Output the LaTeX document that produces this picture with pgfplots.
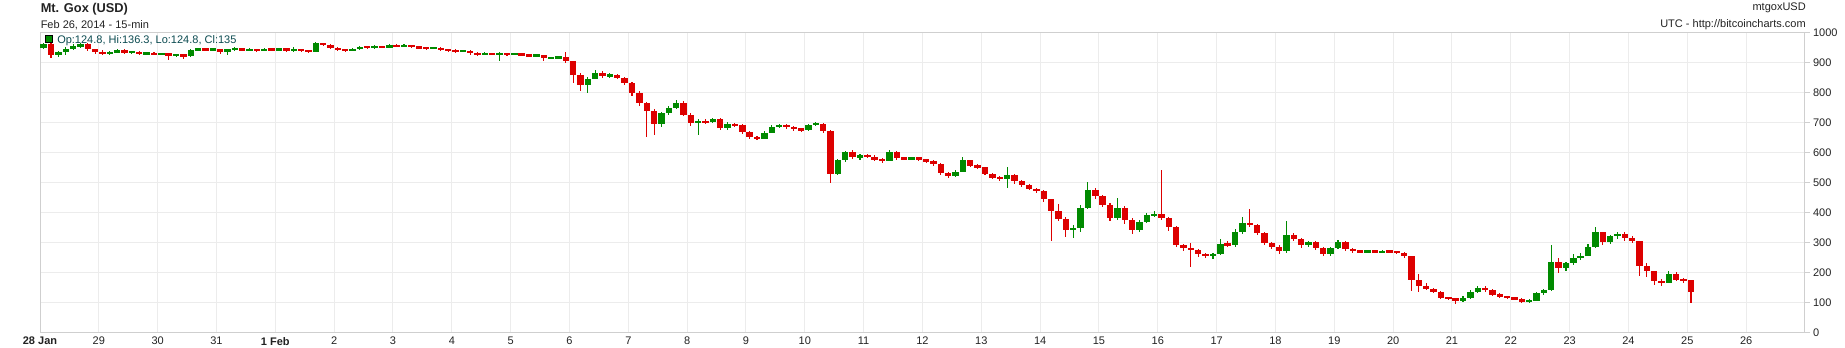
\documentclass[border=0pt]{standalone}
\usepackage{fontspec}
\setmainfont{Liberation Sans}
\usepackage{pgfplots}
\usepackage{pgfplotstable}
\pgfplotsset{compat=1.18}
\definecolor{upg}{HTML}{008A00}
\definecolor{dnr}{HTML}{DD0000}
\definecolor{gridc}{HTML}{ECECEC}
\definecolor{axc}{HTML}{CFCFCF}
\definecolor{legc}{HTML}{0B4A50}
\definecolor{txt}{HTML}{222222}

\pgfplotstableread{
t o h l c
0.0625 950 968 945 962
0.1875 962 965 915 928
0.3125 928 940 920 935
0.4375 935 952 928 948
0.5625 948 962 942 955
0.6875 955 968 950 962
0.8125 962 966 940 945
0.9375 945 948 930 938
1.0625 938 942 925 930
1.1875 930 940 926 935
1.3125 935 946 932 942
1.4375 942 945 930 934
1.5625 934 941 930 938
1.6875 938 940 926 930
1.8125 930 936 927 932
1.9375 932 935 925 929
2.0625 929 934 926 931
2.1875 931 933 911 926
2.3125 926 931 921 928
2.4375 928 930 912 922
2.5625 922 947 920 944
2.6875 944 951 940 947
2.8125 947 950 940 943
2.9375 943 950 940 946
3.0625 946 948 930 938
3.1875 938 947 928 944
3.3125 944 952 941 948
3.4375 948 951 940 943
3.5625 943 949 940 945
3.6875 945 948 938 942
3.8125 942 950 939 946
3.9375 946 949 940 944
4.0625 944 951 940 947
4.1875 947 950 938 942
4.3125 942 952 938 946
4.4375 946 948 935 940
4.5625 940 944 934 938
4.6875 938 970 936 966
4.8125 966 968 957 960
4.9375 960 962 948 951
5.0625 951 953 940 944
5.1875 944 947 938 942
5.3125 942 949 939 946
5.4375 946 958 944 954
5.5625 954 957 947 951
5.6875 951 960 948 955
5.8125 955 958 949 952
5.9375 952 962 950 958
6.0625 958 962 952 955
6.1875 955 963 953 959
6.3125 959 961 950 953
6.4375 953 956 947 950
6.5625 950 953 944 948
6.6875 948 953 945 950
6.8125 950 952 941 945
6.9375 945 948 937 941
7.0625 941 945 934 938
7.1875 938 944 935 940
7.3125 940 942 928 932
7.4375 932 935 924 928
7.5625 928 936 925 932
7.6875 932 934 925 929
7.8125 929 935 906 931
7.9375 931 934 922 927
8.0625 927 934 925 931
8.1875 931 933 922 926
8.3125 926 929 920 924
8.4375 924 929 921 926
8.5625 926 927 905 915
8.6875 915 920 912 917
8.8125 917 922 915 919
8.9375 919 937 900 905
9.0625 905 908 832 860
9.1875 860 865 808 825
9.3125 825 852 800 848
9.4375 848 875 845 868
9.5625 868 872 850 856
9.6875 856 866 850 860
9.8125 860 864 845 850
9.9375 850 853 825 832
10.0625 832 836 790 800
10.1875 800 805 755 765
10.3125 765 770 654 740
10.4375 740 745 660 695
10.5625 695 738 688 732
10.6875 732 756 725 750
10.8125 750 775 745 768
10.9375 768 772 722 728
11.0625 728 732 690 700
11.1875 700 712 660 706
11.3125 706 712 696 702
11.4375 702 718 700 712
11.5625 712 715 676 682
11.6875 682 702 678 696
11.8125 696 700 686 692
11.9375 692 695 662 670
12.0625 670 673 645 652
12.1875 652 656 642 648
12.3125 648 672 645 668
12.4375 668 694 665 688
12.5625 688 698 684 692
12.6875 692 696 680 686
12.8125 686 690 672 680
12.9375 680 684 670 676
13.0625 676 698 674 694
13.1875 694 704 690 698
13.3125 698 700 665 672
13.4375 672 675 499 530
13.5625 530 580 525 575
13.6875 575 608 570 602
13.8125 602 610 580 585
13.9375 585 598 578 592
14.0625 592 597 582 588
14.1875 588 592 572 578
14.3125 578 582 568 574
14.4375 574 610 572 602
14.5625 602 605 578 583
14.6875 583 588 575 580
14.8125 580 588 576 584
14.9375 584 587 573 578
15.0625 578 580 566 572
15.1875 572 576 555 562
15.3125 562 565 526 532
15.4375 532 538 518 524
15.5625 524 542 520 538
15.6875 538 587 536 575
15.8125 575 578 552 558
15.9375 558 562 546 552
16.0625 552 554 525 530
16.1875 530 533 512 518
16.3125 518 522 508 514
16.4375 514 552 482 526
16.5625 526 530 498 505
16.6875 505 509 488 494
16.8125 494 497 475 480
16.9375 480 484 466 472
17.0625 472 475 436 445
17.1875 445 448 305 405
17.3125 405 430 372 380
17.4375 380 385 320 342
17.5625 342 360 318 350
17.6875 350 425 338 418
17.8125 418 502 412 478
17.9375 478 484 448 456
18.0625 456 460 420 428
18.1875 428 432 372 382
18.3125 382 450 378 418
18.4375 418 422 362 378
18.5625 378 382 330 342
18.6875 342 378 336 370
18.8125 370 400 365 392
18.9375 392 405 385 396
19.0625 396 543 378 384
19.1875 384 388 340 352
19.3125 352 355 285 292
19.4375 292 298 272 282
19.5625 282 300 221 276
19.6875 276 280 252 262
19.8125 262 266 250 258
19.9375 258 268 248 262
20.0625 262 312 260 298
20.1875 298 305 285 292
20.3125 292 345 286 338
20.4375 338 385 330 368
20.5625 368 412 352 360
20.6875 360 364 325 334
20.8125 334 338 294 300
20.9375 300 304 280 288
21.0625 288 292 264 272
21.1875 272 373 268 328
21.3125 328 332 305 312
21.4375 312 315 284 292
21.5625 292 308 288 302
21.6875 302 306 276 282
21.8125 282 285 256 262
21.9375 262 288 258 284
22.0625 284 310 280 304
22.1875 304 308 274 280
22.3125 280 283 266 272
22.4375 272 275 266 270
22.5625 270 276 267 273
22.6875 273 276 265 269
22.8125 269 275 266 272
22.9375 272 274 266 270
23.0625 270 273 264 268
23.1875 268 271 250 256
23.3125 256 258 140 175
23.4375 175 195 135 158
23.5625 158 168 142 148
23.6875 148 150 132 138
23.8125 138 140 112 118
23.9375 118 120 110 114
24.0625 114 118 96 108
24.1875 108 124 104 118
24.3125 118 142 114 136
24.4375 136 158 132 150
24.5625 150 155 136 142
24.6875 142 145 124 128
24.8125 128 134 118 122
24.9375 122 124 112 116
25.0625 116 120 110 113
25.1875 113 116 100 104
25.3125 104 112 100 108
25.4375 108 138 106 132
25.5625 132 148 128 142
25.6875 142 293 140 235
25.8125 235 250 200 215
25.9375 215 238 208 232
26.0625 232 262 226 250
26.1875 250 265 244 258
26.3125 258 295 255 288
26.4375 288 352 284 335
26.5625 335 338 292 302
26.6875 302 328 298 322
26.8125 322 338 314 330
26.9375 330 336 305 318
27.0625 318 322 300 305
27.1875 305 308 190 222
27.3125 222 232 185 205
27.4375 205 208 160 172
27.5625 172 180 158 168
27.6875 168 205 165 198
27.8125 198 202 172 178
27.9375 178 182 168 175
28.0625 175 178 101 135
}\candles

\pgfplotsset{
  wick/.style={draw=none, mark=none, forget plot,
    error bars/y dir=both, error bars/y explicit, error bars/error mark=none,
    error bars/error bar style={line width=0.8pt, draw=#1}},
  body/.style={draw=none, mark=none, forget plot,
    error bars/y dir=both, error bars/y explicit, error bars/error mark=none,
    error bars/error bar style={line width=4.8pt, draw=#1}},
}

\begin{document}
\begin{tikzpicture}[x=0.75pt,y=0.75pt]
\path[use as bounding box] (0,0) rectangle (1845,348);
\begin{axis}[
  at={(30pt,11.25pt)}, anchor=south west,
  scale only axis, width=1323.75pt, height=225pt,
  xmin=0, xmax=30, ymin=0, ymax=1000,
  xtick={0,...,29},
  xticklabels={\textbf{28 Jan},29,30,31,\textbf{1 Feb},2,3,4,5,6,7,8,9,10,11,12,13,14,15,16,17,18,19,20,21,22,23,24,25,26},
  ytick={0,100,...,1000},
  yticklabel pos=right, ytick pos=right, xtick pos=bottom,
  tick align=outside, major tick length=3.5pt,
  xtick style={draw=none},
  ytick style={draw=axc, line width=0.75pt},
  grid=major, major grid style={draw=gridc, line width=0.75pt},
  axis line style={draw=axc, line width=0.75pt},
  ticklabel style={font=\fontsize{8.25}{10}\selectfont, text=txt},
  xticklabel style={yshift=4pt},
  yticklabel style={xshift=-1pt},
  /pgf/number format/assume math mode=true,
  /pgf/number format/1000 sep={},
]
\addplot[wick=upg, restrict expr to domain={\thisrow{c}-\thisrow{o}}{0:5000}]
  table[x=t, y expr={(\thisrow{h}+\thisrow{l})/2}, y error expr={(\thisrow{h}-\thisrow{l})/2}] {\candles};
\addplot[wick=dnr, restrict expr to domain={\thisrow{c}-\thisrow{o}}{-5000:-0.5}]
  table[x=t, y expr={(\thisrow{h}+\thisrow{l})/2}, y error expr={(\thisrow{h}-\thisrow{l})/2}] {\candles};
\addplot[body=upg, restrict expr to domain={\thisrow{c}-\thisrow{o}}{0:5000}]
  table[x=t, y expr={(\thisrow{o}+\thisrow{c})/2}, y error expr={max(abs(\thisrow{o}-\thisrow{c})/2,4)}] {\candles};
\addplot[body=dnr, restrict expr to domain={\thisrow{c}-\thisrow{o}}{-5000:-0.5}]
  table[x=t, y expr={(\thisrow{o}+\thisrow{c})/2}, y error expr={max(abs(\thisrow{o}-\thisrow{c})/2,4)}] {\candles};
\end{axis}
\node[anchor=base west, inner sep=0pt, font=\bfseries\fontsize{9.6}{11}\selectfont, text=txt] at (40.5,335) {Mt. Gox (USD)};
\node[anchor=base west, inner sep=0pt, font=\fontsize{8.25}{10}\selectfont, text=txt] at (40.5,319.5) {Feb 26, 2014 - 15-min};
\node[anchor=base east, inner sep=0pt, font=\fontsize{8.25}{10}\selectfont, text=txt] at (1806,337) {mtgoxUSD};
\node[anchor=base east, inner sep=0pt, font=\fontsize{8.25}{10}\selectfont, text=txt] at (1806,320) {UTC - http://bitcoincharts.com};
\draw[black, fill=upg, line width=0.6pt] (45.5,305.5) rectangle (52.5,312.5);
\node[anchor=base west, inner sep=0pt, font=\fontsize{8.25}{10}\selectfont, text=legc] at (57,304) {Op:124.8, Hi:136.3, Lo:124.8, Cl:135};
\end{tikzpicture}
\end{document}
